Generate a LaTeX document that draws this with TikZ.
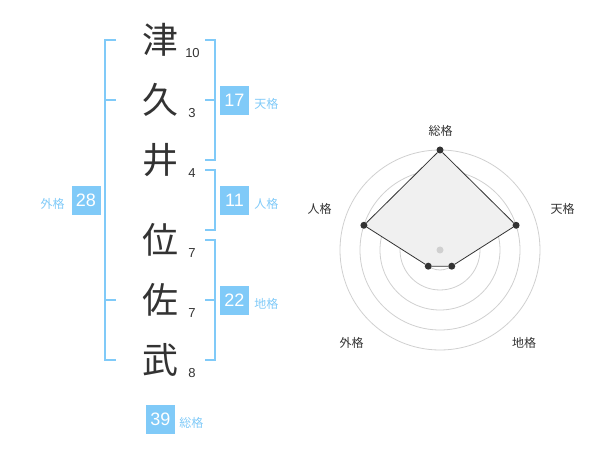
\documentclass[tikz,border=0pt]{standalone}
\usepackage{fontspec}
\newfontfamily\jpfont{Noto Sans CJK JP}
\newfontfamily\numfont{Liberation Sans}
\usetikzlibrary{positioning}
\usetikzlibrary{calc}
\definecolor{kakublue}{RGB}{128,202,248}
\definecolor{inkgray}{RGB}{51,51,51}
\definecolor{ringgray}{RGB}{208,208,208}
\definecolor{areagray}{RGB}{240,240,240}

\begin{document}
\begin{tikzpicture}[x=1pt,y=-1pt]
				\tikzset{kanji/.style = {font=\jpfont\fontsize{36}{36}\selectfont, text=inkgray, inner sep=0pt}}
				\tikzset{strokes/.style = {font=\numfont\fontsize{13}{13}\selectfont, text=inkgray, inner sep=0pt}}
				\tikzset{kakubox/.style = {fill=kakublue, text=white, minimum size=29pt, inner sep=0pt, font=\numfont\fontsize{18}{18}\selectfont}}
				\tikzset{kakulabel/.style = {font=\jpfont\fontsize{12}{12}\selectfont, text=kakublue, inner sep=0pt}}
				\tikzset{bracket/.style = {draw=kakublue, line width=2pt}}
				\tikzset{ring/.style = {draw=ringgray, line width=0.8pt}}
				\tikzset{dot/.style = {shape=circle, fill=inkgray, minimum size=7pt, inner sep=0pt}}
				\tikzset{axislabel/.style = {font=\jpfont\fontsize{12}{12}\selectfont, text=inkgray, inner sep=0pt}}
				\useasboundingbox (0,0) rectangle (600,470);
				
				\node[kanji] (c1) at (160,40) {津};
				\node[kanji] (c2) at (160,100) {久};
				\node[kanji] (c3) at (160,160) {井};
				\node[kanji] (c4) at (160,240) {位};
				\node[kanji] (c5) at (160,300) {佐};
				\node[kanji] (c6) at (160,360) {武};
				
				\node[strokes] (s1) at (192.5,53) {10};
				\node[strokes] (s2) at (192,113) {3};
				\node[strokes] (s3) at (192,173) {4};
				\node[strokes] (s4) at (192,253) {7};
				\node[strokes] (s5) at (192,313) {7};
				\node[strokes] (s6) at (192,373) {8};
				
				\draw[bracket] (116,40) -- (105,40) -- (105,360) -- (116,360);
				\draw[bracket] (105,100) -- (116,100);
				\draw[bracket] (105,300) -- (116,300);
				\draw[bracket] (205,40) -- (215,40) -- (215,160) -- (205,160);
				\draw[bracket] (205,100) -- (215,100);
				\draw[bracket] (205,170) -- (215,170) -- (215,230) -- (205,230);
				\draw[bracket] (205,240) -- (215,240) -- (215,360) -- (205,360);
				\draw[bracket] (205,300) -- (215,300);
				
				\node[kakubox] (ten) at (234.5,100.5) {17};
				\node[kakubox] (jin) at (234.5,200.5) {11};
				\node[kakubox] (chi) at (234.5,300.5) {22};
				\node[kakubox] (gai) at (86,200.5) {28};
				\node[kakubox] (sou) at (160.5,419.5) {39};
				\node[kakulabel, right=5pt of ten, yshift=-3pt] (tenlabel) {天格};
				\node[kakulabel, right=5pt of jin, yshift=-3pt] (jinlabel) {人格};
				\node[kakulabel, right=5pt of chi, yshift=-3pt] (chilabel) {地格};
				\node[kakulabel, left=6.5pt of gai, yshift=-3pt] (gailabel) {外格};
				\node[kakulabel, right=4pt of sou, yshift=-3pt] (soulabel) {総格};
				
				\coordinate (o) at (440,250);
				\draw[ring] (o) circle[radius=20pt];
				\draw[ring] (o) circle[radius=40pt];
				\draw[ring] (o) circle[radius=60pt];
				\draw[ring] (o) circle[radius=80pt];
				\draw[ring] (o) circle[radius=100pt];
				
				\coordinate (psou) at ($(o)+(90:100pt)$);
				\coordinate (pten) at ($(o)+(18:80pt)$);
				\coordinate (pchi) at ($(o)+(-54:20pt)$);
				\coordinate (pgai) at ($(o)+(-126:20pt)$);
				\coordinate (pjin) at ($(o)+(162:80pt)$);
				\fill[areagray] (psou) -- (pten) -- (pchi) -- (pgai) -- (pjin) -- cycle;
				
				\node[dot, fill=ringgray] (mid) at (o) {};
				\node[dot] (dsou) at (psou) {};
				\node[dot] (dten) at (pten) {};
				\node[dot] (dchi) at (pchi) {};
				\node[dot] (dgai) at (pgai) {};
				\node[dot] (djin) at (pjin) {};
				\draw[inkgray, line width=0.8pt] (dsou) -- (dten) -- (dchi) -- (dgai) -- (djin) -- (dsou);
				
				\node[axislabel] (asou) at (440.5,131) {総格};
				\node[axislabel] (aten) at (562.5,208.5) {天格};
				\node[axislabel] (ajin) at (319.5,208.5) {人格};
				\node[axislabel] (agai) at (351.5,342.5) {外格};
				\node[axislabel] (achi) at (524,342.5) {地格};
				
\end{tikzpicture}
\end{document}
